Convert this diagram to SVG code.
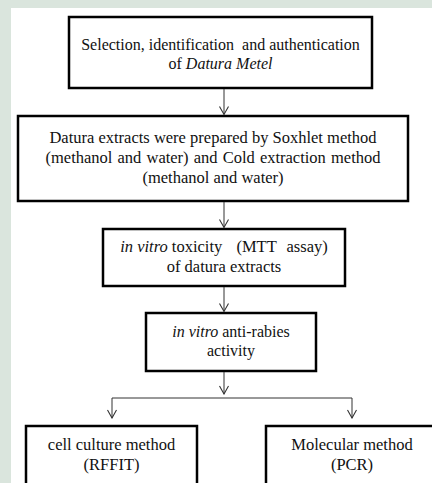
<svg xmlns="http://www.w3.org/2000/svg" width="432" height="483" viewBox="0 0 432 483">
<defs>
<marker id="ah" viewBox="0 0 10 10" refX="9" refY="5" markerWidth="10" markerHeight="10" markerUnits="userSpaceOnUse" orient="auto">
<path d="M1,0.5 L9,5 L1,9.5" fill="none" stroke="#333" stroke-width="1.1"/>
</marker>
</defs>
<style>
.box{fill:#fff;stroke:#000;stroke-width:2.5}
.t{font-family:"Liberation Serif","Times New Roman",serif;font-size:16px;fill:#111;text-anchor:middle}
.m{font-size:16.5px}
.i{font-style:italic}
.c{stroke:#333;stroke-width:1;fill:none}
</style>
<rect x="0" y="0" width="432" height="483" fill="#dae5dd"/>
<rect x="11" y="8" width="421" height="475" fill="#fff"/>
<g id="n1">
<rect class="box" x="69" y="17" width="303" height="71"/>
<text class="t" x="220.5" y="50">Selection, identification <tspan dx="4">and authentication</tspan></text>
<text class="t" x="220.5" y="68.5">of <tspan class="i">Datura Metel</tspan></text>
</g>
<g id="n2">
<rect class="box" x="18" y="116" width="390" height="85"/>
<text class="t m" x="213" y="143">Datura extracts were prepared by Soxhlet method</text>
<text class="t m" x="213" y="163" word-spacing="1">(methanol and water) and Cold extraction method</text>
<text class="t m" x="213" y="183">(methanol and water)</text>
</g>
<g id="n3">
<rect class="box" x="103" y="229" width="242" height="57"/>
<text class="t m" x="224" y="252"><tspan class="i">in vitro</tspan> toxicity <tspan dx="10">(MTT</tspan> <tspan dx="6">assay)</tspan></text>
<text class="t m" x="224" y="272">of datura extracts</text>
</g>
<g id="n4">
<rect class="box" x="146" y="313" width="170" height="58"/>
<text class="t" x="231" y="337"><tspan class="i">in vitro</tspan> anti-rabies</text>
<text class="t" x="231" y="356">activity</text>
</g>
<g id="n5">
<rect class="box" x="26" y="426" width="171" height="70"/>
<text class="t m" x="111.5" y="450">cell culture method</text>
<text class="t m" x="111.5" y="470">(RFFIT)</text>
</g>
<g id="n6">
<rect class="box" x="266" y="426" width="180" height="70"/>
<text class="t m" x="352" y="450">Molecular method</text>
<text class="t m" x="352" y="470">(PCR)</text>
</g>
<g id="connectors">
<line class="c" x1="224" y1="89" x2="224" y2="114.5" marker-end="url(#ah)"/>
<line class="c" x1="224" y1="202" x2="224" y2="227.5" marker-end="url(#ah)"/>
<line class="c" x1="224" y1="287" x2="224" y2="311.5" marker-end="url(#ah)"/>
<line class="c" x1="224" y1="372" x2="224" y2="394" marker-end="url(#ah)"/>
<line class="c" x1="112" y1="398" x2="352" y2="398"/>
<line class="c" x1="112" y1="398" x2="112" y2="418" marker-end="url(#ah)"/>
<line class="c" x1="352" y1="398" x2="352" y2="418" marker-end="url(#ah)"/>
</g>
</svg>
